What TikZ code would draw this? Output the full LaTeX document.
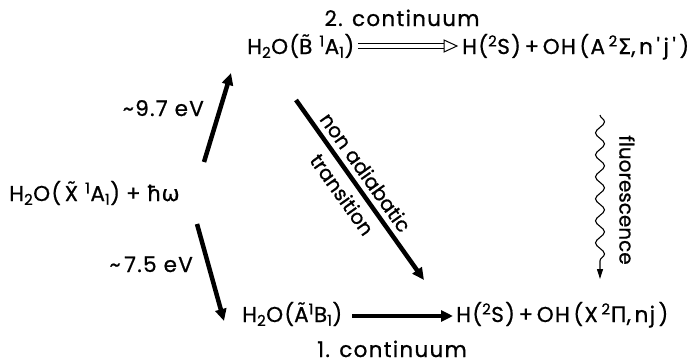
\documentclass[tikz,border=0pt]{standalone}
\usepackage{fontspec}
\setmainfont[LetterSpace=6, FakeBold=0.8]{Poppins}
\newfontfamily\gr[FakeBold=0.5]{DejaVu Sans}
\usetikzlibrary{arrows.meta,decorations.pathmorphing,calc}
\newcommand\lo[1]{\textsubscript{#1}}
\newcommand\hi[1]{\textsuperscript{#1}}
\newcommand\tl[1]{{\setbox0\hbox{#1}\rlap{\hbox to\wd0{\hss\raisebox{0.2em}{\char"02DC}\hss}}\box0}}
\newcommand\apo{\textquotesingle}
\begin{document}
\begin{tikzpicture}[x=1pt,y=-1pt,
  lbl/.style={inner sep=0pt, font=\fontsize{21.5}{24}\selectfont},
  slbl/.style={inner sep=0pt, font=\fontsize{20}{22}\selectfont\addfontfeatures{LetterSpace=0}},
  thick arrow/.style={line width=4.5pt, -{Triangle[length=12pt,width=11pt]}}]
\useasboundingbox (0,0) rectangle (694,364);
\node[lbl, anchor=base west] (X) at (9,201) {H\lo{2}O(\,\tl{X} \hi{1}A\lo{1})\;+\;{\gr ħω}};
\node[lbl, anchor=base west] (B) at (247,54) {H\lo{2}O(\tl{B} \hi{1}A\lo{1})};
\node[lbl, anchor=base west] (A) at (242,322) {H\lo{2}O(\tl{A}\hi{1}B\lo{1})};
\node[lbl, anchor=base west] (PA) at (462,54) {H(\hi{2}S)\,+\,OH\,(A\,\hi{2}{\gr Σ},\,n\,\apo\,j\,\apo\,)};
\node[lbl, anchor=base west] (PX) at (456,322) {H(\hi{2}S)\,+\,OH\,(X\,\hi{2}{\gr Π},\,nj\,)};
\node[lbl, anchor=base] (c2) at (402,26) {2. continuum};
\node[lbl, anchor=base] (c1) at (392,357) {1. continuum};
\node[lbl, anchor=base east] (e97) at (204,116) {\textasciitilde 9.7 eV};
\node[lbl, anchor=base east] (e75) at (193,272) {\textasciitilde\,7.5 eV};
\coordinate (u0) at (204,162); \coordinate (u1) at (231,73);
\coordinate (d0) at (197,224); \coordinate (d1) at (224,321);
\coordinate (n0) at (296,100); \coordinate (n1) at (424,280);
\coordinate (w0) at (600,115); \coordinate (w1) at (600,279);
\draw[thick arrow] (u0) -- (u1);
\draw[thick arrow] (d0) -- (d1);
\draw[thick arrow] (n0) -- (n1)
  node[slbl, pos=0.45, sloped, yshift=15pt] (na) {non adiabatic}
  node[slbl, pos=0.47, sloped, yshift=-17pt] (tr) {transition};
\draw[line width=4.5pt, -{Triangle[length=12pt,width=11pt]}] ($(A.base east)+(10,-6)$) -- ($(PX.base west)+(-3,-6)$);
% double arrow with open head
\coordinate (da) at ($(B.base east)+(4,-8)$);
\coordinate (db) at ($(PA.base west)+(-5,-8)$);
\draw[line width=0.9pt] ($(da)+(0,-2.2)$) -- ($(db)+(-13,-2.2)$);
\draw[line width=0.9pt] ($(da)+(0,2.2)$) -- ($(db)+(-13,2.2)$);
\draw[line width=1pt, line join=miter] ($(db)+(-13,-6)$) -- (db) -- ($(db)+(-13,6)$) -- cycle;
\draw[line width=1.1pt, decorate, decoration={snake, amplitude=4.5pt, segment length=22pt, post length=10pt}, -{Triangle[length=10pt,width=6pt]}] (w0) -- (w1);
\node[slbl, rotate=-90] (fl) at (627,200) {fluorescence};
\end{tikzpicture}
\end{document}
